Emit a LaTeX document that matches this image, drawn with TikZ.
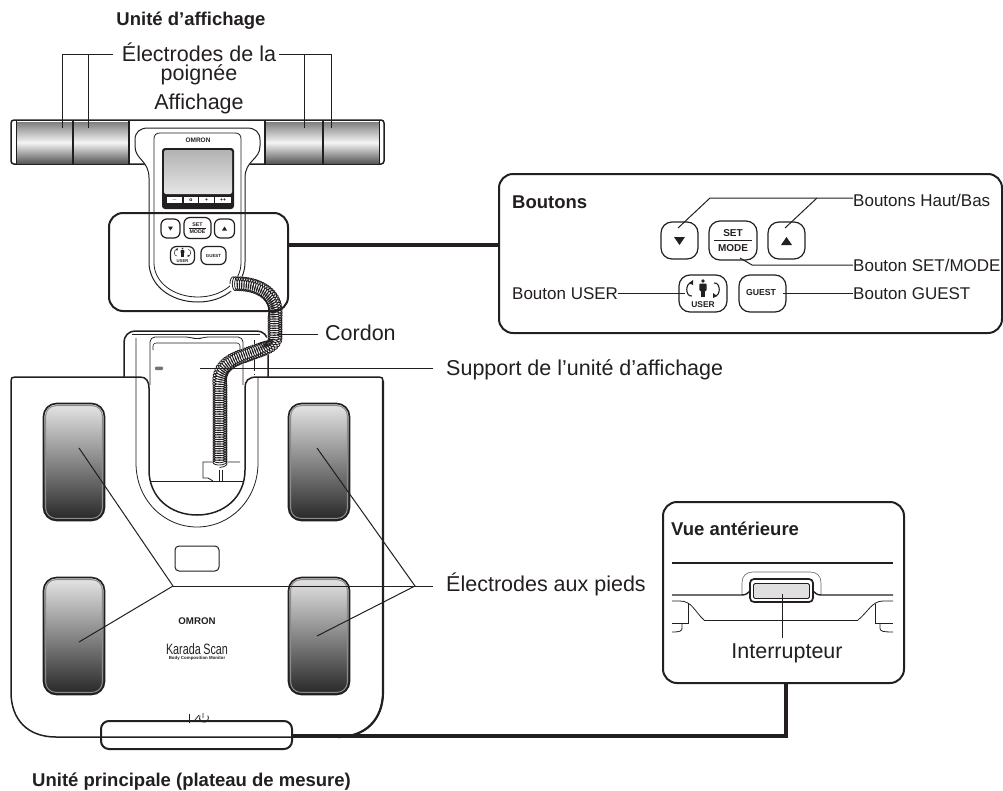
\documentclass[tikz,border=0pt]{standalone}
\usepackage{fontspec}
\setmainfont{Liberation Sans}
\newfontfamily\narrowfont[FakeStretch=0.72]{Liberation Sans}
\usetikzlibrary{decorations.pathmorphing}
\definecolor{ink}{HTML}{231F20}
\tikzset{
  lbl/.style={text=ink,inner sep=0pt,font=\fontsize{21.5}{24}\selectfont},
  lblleft/.style={lbl,anchor=west,inner xsep=13pt},
  lblsmall/.style={text=ink,inner sep=0pt,anchor=west,font=\fontsize{17}{20}\selectfont},
  heading/.style={text=ink,inner sep=0pt,font=\fontsize{18.5}{22}\bfseries\selectfont},
  leader/.style={draw=ink,line width=1pt},
  callout/.style={draw=ink,line width=2pt,rounded corners=14pt,inner sep=0pt},
  tether/.style={draw=ink,line width=4pt},
  btn/.style={draw=ink,line width=1.2pt,rounded corners=11pt,fill=white,inner sep=0pt},
  btnsmall/.style={draw=ink,line width=1.2pt,rounded corners=6pt,fill=white,inner sep=0pt},
  grip/.style={top color=black!50,bottom color=black!65,middle color=black!4},
  pad/.style={draw=ink,line width=1.6pt,rounded corners=13pt,top color=black!10,bottom color=black!85,inner sep=0pt,minimum width=61pt,minimum height=117pt,
    path picture={\draw[black!45,line width=1pt,rounded corners=10pt] ([xshift=2.2pt,yshift=-2.2pt]path picture bounding box.north west) rectangle ([xshift=-2.2pt,yshift=2.2pt]path picture bounding box.south east);}},
  coiled/.style={draw=ink,line width=.8pt,decorate,decoration={coil,aspect=.45,segment length=2.3pt,amplitude=7pt}},
  usericon/.pic={
    \draw[ink] (-11,-9) .. controls (-18,-10) and (-18,5) .. (-11,4);
    \draw[ink] (11,-9) .. controls (18,-10) and (18,5) .. (11,4);
    \fill[ink] (-14,-9) -- (-10,-12) -- (-10,-7) -- cycle;
    \fill[ink] (14,4) -- (10,1) -- (10,6) -- cycle;
    \fill[ink] (0,-11) circle (1.9);
    \fill[ink,rounded corners=1pt] (-3.6,-8.5) rectangle (3.6,-1);
    \fill[ink] (-2.4,-2) rectangle (2.4,5);
  }
}
\begin{document}
\begin{tikzpicture}[x=1pt,y=-1pt]
\useasboundingbox (0,0) rectangle (1003,790);
\fill[white] (0,0) rectangle (1003,790);
\draw[ink,line width=1.5pt,rounded corners=3pt] (11,120) rectangle (384,164);
\shade[grip] (16,122) rectangle (72,163);
\shade[grip] (73,122) rectangle (129,163);
\shade[grip] (265,122) rectangle (322,163);
\shade[grip] (323,122) rectangle (379,163);
\draw[ink,line width=1pt] (16,120) -- (16,164) (379,120) -- (379,164);
\draw[ink,line width=1.3pt] (129,120) -- (129,164) (265,120) -- (265,164);
\draw[ink,line width=2pt] (72.5,120) -- (72.5,164) (322.5,120) -- (322.5,164);
\fill[white,draw=ink,line width=1pt] (135,140) .. controls (135,132) and (140,128) .. (148,128) -- (247,128) .. controls (255,128) and (260,132) .. (260,140) -- (260,146) .. controls (260,160) and (245,160) .. (245,178) -- (245,262) .. controls (245,285) and (225,302) .. (198,302) .. controls (170,302) and (149,285) .. (149,262) -- (149,178) .. controls (149,160) and (135,160) .. (135,146) -- cycle;
\draw[ink,line width=.8pt] (154,263) -- (154,139) .. controls (154,135) and (156,133) .. (160,133) -- (235,133) .. controls (239,133) and (241,135) .. (241,139) -- (241,263) .. controls (241,282) and (222,297) .. (198,297) .. controls (173,297) and (154,282) .. (154,263);
\node[text=ink,inner sep=0pt,font=\fontsize{6.5}{7}\bfseries\selectfont,name=tLogoTop] at (198,140.5) {OMRON};
\node[fill=ink,rounded corners=3pt,minimum width=72pt,minimum height=61pt,inner sep=0pt,name=nLcd] at (198,178.5) {};
\shade[top color=black!30,bottom color=black!10,rounded corners=2pt] (164,150) rectangle (232,194);
\node[fill=white,minimum width=15pt,minimum height=6pt,inner sep=0pt,font=\fontsize{5}{5}\bfseries\selectfont,name=kA] at (174.5,200) {$-$};
\node[fill=white,minimum width=14pt,minimum height=6pt,inner sep=0pt,font=\fontsize{5}{5}\bfseries\selectfont,name=kB] at (191,200) {o};
\node[fill=white,minimum width=15pt,minimum height=6pt,inner sep=0pt,font=\fontsize{5}{5}\bfseries\selectfont,name=kC] at (206.5,200) {+};
\node[fill=white,minimum width=16pt,minimum height=6pt,inner sep=0pt,font=\fontsize{5}{5}\bfseries\selectfont,name=kD] at (223,200) {++};
\node[btnsmall,minimum width=19pt,minimum height=19pt,name=sDown] at (170.5,228.5) {};
\node[btnsmall,minimum width=27pt,minimum height=21pt,name=sSet] at (197.5,228) {};
\node[btnsmall,minimum width=20pt,minimum height=19pt,name=sUp] at (224.5,228.5) {};
\node[btnsmall,minimum width=24pt,minimum height=18pt,name=sUser] at (182.5,255.5) {};
\node[btnsmall,minimum width=25pt,minimum height=18pt,name=sGuest] at (213.5,255.5) {};
\fill[ink] (168,226.5) -- (173,226.5) -- (170.5,230.5) -- cycle;
\fill[ink] (222,230.5) -- (227,230.5) -- (224.5,226.5) -- cycle;
\node[text=ink,inner sep=0pt,font=\fontsize{5.3}{6}\bfseries\selectfont,name=sSetA] at (197.5,224.5) {SET};
\node[text=ink,inner sep=0pt,font=\fontsize{5.3}{6}\bfseries\selectfont,name=sSetB] at (197.5,232) {MODE};
\draw[ink,line width=.5pt] (189,228) -- (206,228);
\pic[scale=.5,line width=.5pt] at (182.5,254) {usericon};
\node[text=ink,inner sep=0pt,font=\fontsize{4.2}{5}\bfseries\selectfont,name=sUserT] at (182.5,261.5) {USER};
\node[text=ink,inner sep=0pt,font=\fontsize{4.4}{5}\bfseries\selectfont,name=sGuestT] at (213.5,255.5) {GUEST};
\draw[ink,line width=1.5pt,rounded corners=11pt] (124,377) -- (124,331) -- (268,331) -- (268,377);
\draw[ink,line width=.6pt] (132,334.5) -- (260,334.5);
\draw[ink,line width=.8pt] (136,338) -- (136,463) .. controls (136,500) and (164,527) .. (197,527) .. controls (230,527) and (258,500) .. (258,463) -- (258,377);
\draw[ink,line width=.7pt,dash pattern=on 14pt off 3pt] (254,340) -- (254,375);
\draw[ink,line width=.8pt,rounded corners=5pt] (150,385) -- (150,337) -- (190,337) -- (197,339.5) -- (204,337) -- (243,337) -- (243,385);
\draw[ink,line width=.6pt,rounded corners=3pt] (153,350) -- (153,343) -- (240,343) -- (240,350);
\fill[black!55,rounded corners=1pt] (155,366.5) rectangle (163,370);
\draw[ink,line width=1pt] (150,481) -- (243,481);
\draw[ink,line width=.8pt] (240,462) -- (203,462) -- (203,478) -- (208,478) -- (213,481);
\draw[ink,line width=.8pt] (219,470) -- (219,481) (222,470) -- (222,481);
\draw[white,line width=15pt] (230,284) .. controls (258,282) and (276,294) .. (275,314) -- (275,336) .. controls (275,346) and (262,349) .. (246,355) .. controls (228,361) and (220,368) .. (220,382) -- (220,468);
\draw[coiled] (230,284) .. controls (258,282) and (276,294) .. (275,314) -- (275,336) .. controls (275,346) and (262,349) .. (246,355) .. controls (228,361) and (220,368) .. (220,382) -- (220,468);
\draw[ink,line width=1.5pt] (140,377) .. controls (146,377) and (149,381) .. (149,388) -- (149,470) .. controls (149,497) and (170,515) .. (197,515) .. controls (224,515) and (245,497) .. (245,470) -- (245,388) .. controls (245,381) and (248,377) .. (257,377) -- (379,377) .. controls (382,377) and (383,378) .. (383,381) -- (383,692) .. controls (383,720) and (365,737) .. (338,737) -- (56,737) .. controls (28,737) and (11,720) .. (11,692) -- (11,381) .. controls (11,378) and (12,377) .. (15,377) -- cycle;
\draw[ink,line width=2.2pt] (383,381) -- (383,692) .. controls (383,720) and (365,737) .. (338,737);
\node[pad,name=pLeftTop] at (74,462) {};
\node[pad,name=pLeftBot] at (74,636) {};
\node[pad,name=pRightTop] at (319,462) {};
\node[pad,name=pRightBot] at (319,636) {};
\node[draw=ink,line width=1pt,rounded corners=4pt,minimum width=44pt,minimum height=25pt,inner sep=0pt,name=nPlate] at (197,558.5) {};
\node[text=ink,inner sep=0pt,font=\fontsize{9.7}{11}\bfseries\selectfont,name=tLogo] at (197,621) {OMRON};
\node[text=ink,inner sep=0pt,font=\narrowfont\fontsize{15}{16}\selectfont,name=tKarada] at (197,649) {Karada\,Scan};
\node[text=ink,inner sep=0pt,font=\fontsize{4.4}{5}\bfseries\selectfont,name=tBody] at (197,658) {Body Composition Monitor};
\draw[ink,line width=.8pt] (189.5,714) -- (189.5,723) (195,720) -- (199,715) (203,713) -- (203,718);
\draw[ink,line width=.8pt] (200,715.5) arc[start angle=210,end angle=-30,radius=4.5];
\node[callout,rounded corners=8pt,line width=2pt,minimum width=191pt,minimum height=28pt,name=nBracket] at (196.5,735) {};
\node[callout,minimum width=179pt,minimum height=98pt,name=nCalloutTop] at (198.5,262) {};
\node[callout,minimum width=503pt,minimum height=159pt,name=nBoutons] at (750.5,253.5) {};
\node[callout,minimum width=241pt,minimum height=181pt,name=nVue] at (783.5,592.5) {};
\draw[tether] (nCalloutTop.east |- 0,245) -- (nBoutons.west |- 0,245);
\draw[tether] (nBracket.east |- 0,736) -- (786,736) -- (786,683);
\node[heading,name=tUnit] at (191,21) {Unité d’affichage};
\node[lbl,name=lGrip] at (199,52) {Électrodes de la};
\node[lbl,name=lGripB] at (199,75) {poignée};
\node[lbl,name=lDisplay] at (199,104) {Affichage};
\coordinate (g1) at (62,128);
\coordinate (g2) at (88,128);
\coordinate (g3) at (304,128);
\coordinate (g4) at (331,128);
\draw[leader] ([xshift=-9pt]lGrip.west |- 0,54) -- (62,54) -- (g1);
\draw[leader] (88,54) -- (g2);
\draw[leader] ([xshift=3pt]lGrip.east |- 0,54) -- (331,54) -- (g4);
\draw[leader] (304,54) -- (g3);
\node[lblleft,inner xsep=7pt,name=lCord] at (318,333) {Cordon};
\coordinate (cordEnd) at (277,334);
\draw[leader] (lCord.west |- cordEnd) -- (cordEnd);
\node[lblleft,name=lSupport] at (433,370) {Support de l’unité d’affichage};
\coordinate (supEnd) at (200,368);
\draw[leader] (lSupport.west |- supEnd) -- (supEnd);
\node[lblleft,name=lFeet] at (433,584) {Électrodes aux pieds};
\coordinate (footHub) at (173,586);
\coordinate (footHubR) at (415,586);
\coordinate (f1) at (79,448);
\coordinate (f2) at (79,642);
\coordinate (f3) at (317,448);
\coordinate (f4) at (317,636);
\draw[leader] (f1) -- (footHub) -- (f2);
\draw[leader] (footHub) -- (lFeet.west |- footHub);
\draw[leader] (f3) -- (footHubR) -- (f4);
\node[heading,anchor=west,name=tMain] at (32,782) {Unité principale (plateau de mesure)};
\node[heading,anchor=west,name=tBoutons] at (512,202) {Boutons};
\node[btn,minimum width=37pt,minimum height=37pt,name=bDown] at (679.5,240.5) {};
\node[btn,minimum width=48pt,minimum height=39pt,name=bSet] at (733,240.5) {};
\node[btn,minimum width=37pt,minimum height=37pt,name=bUp] at (786.5,240.5) {};
\node[btn,minimum width=48pt,minimum height=37pt,name=bUser] at (703,293.5) {};
\node[btn,minimum width=47pt,minimum height=37pt,name=bGuest] at (762.5,293.5) {};
\fill[ink] (674,237) -- (685,237) -- (679.5,245) -- cycle;
\fill[ink] (781,245) -- (792,245) -- (786.5,237) -- cycle;
\node[text=ink,inner sep=0pt,font=\fontsize{10}{11}\bfseries\selectfont,name=tSet] at (733,233.5) {SET};
\node[text=ink,inner sep=0pt,font=\fontsize{10}{11}\bfseries\selectfont,name=tMode] at (733,248) {MODE};
\draw[ink,line width=.8pt] (714,240.5) -- (752,240.5);
\pic[line width=1.1pt] at (703,292) {usericon};
\node[text=ink,inner sep=0pt,font=\fontsize{8.4}{9}\bfseries\selectfont,name=tUser] at (703,305) {USER};
\node[text=ink,inner sep=0pt,font=\fontsize{8.7}{9}\bfseries\selectfont,name=tGuest] at (761,292.5) {GUEST};
\node[lblsmall,name=lHaut] at (853,200) {Boutons Haut/Bas};
\node[lblsmall,name=lSet] at (853,265) {Bouton SET/MODE};
\node[lblsmall,name=lGuest] at (853,294) {Bouton GUEST};
\node[lblsmall,name=lUser] at (512,294) {Bouton USER};
\coordinate (hDown) at (678,228);
\coordinate (hUp) at (785,228);
\coordinate (hSet) at (740,258);
\draw[leader] (hDown) -- (710,198) -- (lHaut.west |- 0,198);
\draw[leader] (hUp) -- (817,198);
\draw[leader] (hSet) -- (752,265) -- (lSet.west);
\draw[leader] (lUser.east |- 0,293) -- (685,293);
\draw[leader] (783,293) -- (lGuest.west |- 0,293);
\node[heading,anchor=west,name=tVue] at (671,529) {Vue antérieure};
\draw[ink,line width=1.2pt] (672,563) -- (893,563);
\draw[ink,line width=2pt] (672,562.5) -- (695,562.5) (868,562.5) -- (893,562.5);
\draw[black!60,line width=.6pt] (742,595) -- (742,583) .. controls (742,576) and (746,572) .. (753,572) -- (810,572) .. controls (817,572) and (821,576) .. (821,583) -- (821,595);
\draw[ink,line width=1.4pt] (672,595) -- (742,595) .. controls (746,595) and (748,593) .. (750,591) (813,591) .. controls (815,593) and (817,595) .. (821,595) -- (893,595);
\node[draw=ink,line width=1.7pt,rounded corners=4pt,minimum width=63pt,minimum height=23pt,inner sep=0pt,fill=white,name=nSwitch] at (781.5,590.5) {};
\node[draw=ink,line width=.8pt,rounded corners=1.5pt,minimum width=56pt,minimum height=15pt,inner sep=0pt,fill=black!12,name=nSwitchIn] at (781.5,591) {};
\draw[ink,line width=1pt] (704,620) -- (858,620);
\draw[ink,line width=.8pt] (672,601) -- (680,601) .. controls (692,601) and (695,612) .. (704,620);
\draw[ink,line width=.8pt] (688,604) -- (688,623) -- (672,623);
\draw[ink,line width=.8pt] (682,623) -- (682,628) .. controls (682,631) and (680,632) .. (672,632);
\draw[ink,line width=.8pt] (893,601) -- (883,601) .. controls (872,601) and (868,612) .. (858,620);
\draw[ink,line width=.8pt] (875,604) -- (875,623) -- (893,623);
\draw[ink,line width=.8pt] (880,623) -- (880,628) .. controls (880,631) and (882,632) .. (893,632);
\node[lbl,name=lSwitch] at (787,653) {Interrupteur};
\coordinate (swEnd) at (782,594);
\draw[leader] (swEnd) -- (782,638);
\end{tikzpicture}
\end{document}
